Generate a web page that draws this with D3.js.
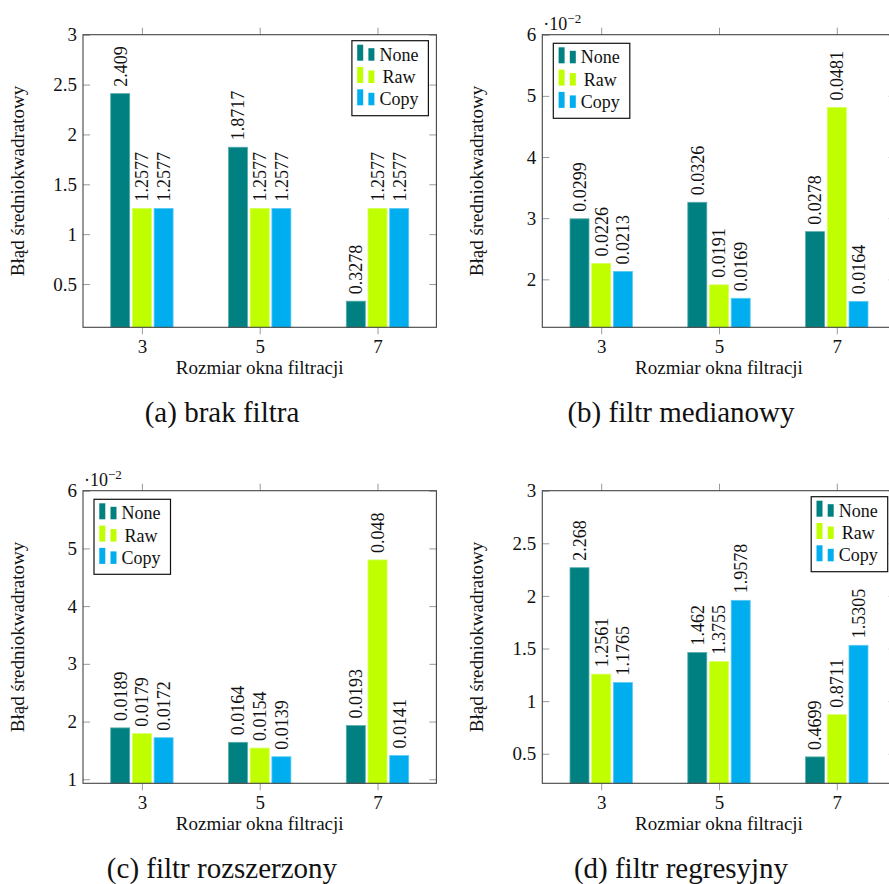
<!DOCTYPE html>
<html>
<head>
<meta charset="utf-8">
<script src="https://cdn.jsdelivr.net/npm/d3@7"></script>
<style>
  body { margin: 0; background: #fff; }
</style>
</head>
<body>
<script>
// Four bar charts (2x2), error per filter window size

var categories = [3, 5, 7];
var seriesNames = ["None", "Raw", "Copy"];
var seriesColors = ["#008080", "#bfff00", "#00aeef"];

// (a) brak filtra
var noneA = [2.409, 1.8717, 0.3278];
var rawA  = [1.2577, 1.2577, 1.2577];
var copyA = [1.2577, 1.2577, 1.2577];
// (b) filtr medianowy
var noneB = [0.0299, 0.0326, 0.0278];
var rawB  = [0.0226, 0.0191, 0.0481];
var copyB = [0.0213, 0.0169, 0.0164];
// (c) filtr rozszerzony
var noneC = [0.0189, 0.0164, 0.0193];
var rawC  = [0.0179, 0.0154, 0.048];
var copyC = [0.0172, 0.0139, 0.0141];
// (d) filtr regresyjny
var noneD = [2.268, 1.462, 0.4699];
var rawD  = [1.2561, 1.3755, 0.8711];
var copyD = [1.1765, 1.9578, 1.5305];

var ticksA = [0.5, 1, 1.5, 2, 2.5, 3];
var ticksB = [0.02, 0.03, 0.04, 0.05, 0.06];
var ticksC = [0.01, 0.02, 0.03, 0.04, 0.05, 0.06];
var ticksD = [0.5, 1, 1.5, 2, 2.5, 3];

var captions = ["(a) brak filtra", "(b) filtr medianowy", "(c) filtr rozszerzony", "(d) filtr regresyjny"];
var xLabel = "Rozmiar okna filtracji";
var yLabel = "Błąd średniokwadratowy";

var serif = "'Liberation Serif', 'DejaVu Serif', serif";
var width = 889, height = 884;
var axW = 353.4, axH = 292.6;

var svg = d3.select("body").append("svg")
    .attr("width", width)
    .attr("height", height)
    .style("font-family", serif);

var panels = [
  { left: 83,    top: 34.7,  series: [noneA, rawA, copyA], ymin: 0.066,  ticks: ticksA, exp: false, legend: "right", capX: 222 },
  { left: 542.3, top: 34.7,  series: [noneB, rawB, copyB], ymin: 0.01216, ticks: ticksB, exp: true,  legend: "left",  capX: 681 },
  { left: 83,    top: 490.7, series: [noneC, rawC, copyC], ymin: 0.0093, ticks: ticksC, exp: true,  legend: "left",  capX: 222 },
  { left: 542.3, top: 490.7, series: [noneD, rawD, copyD], ymin: 0.219,  ticks: ticksD, exp: false, legend: "right", capX: 681 }
];

var barW = 19, barStep = 21.7;
var fmtValue = function(v) { return String(+v.toFixed(4)); };

panels.forEach(function(p, pi) {
  var g = svg.append("g");
  var bottom = p.top + axH, right = p.left + axW;
  var ticks = p.ticks;
  var ymax = ticks[ticks.length - 1];

  var x = d3.scaleLinear().domain([2, 8]).range([p.left, right]);
  var y = d3.scaleLinear().domain([p.ymin, ymax]).range([bottom, p.top]);

  // bars
  p.series.forEach(function(vals, si) {
    var edge = d3.interpolateRgb(seriesColors[si], "#fff")(0.35);
    g.selectAll(null).data(vals).enter().append("rect")
      .attr("x", function(d, i) { return x(categories[i]) + (si - 1) * barStep - barW / 2; })
      .attr("y", function(d) { return y(d); })
      .attr("width", barW)
      .attr("height", function(d) { return bottom - y(d); })
      .attr("fill", seriesColors[si])
      .attr("stroke", edge)
      .attr("stroke-width", 0.8);

    g.selectAll(null).data(vals).enter().append("text")
      .attr("transform", function(d, i) {
        return "translate(" + (x(categories[i]) + (si - 1) * barStep) + "," + (y(d) - 7) + ") rotate(-90)";
      })
      .attr("dy", "0.35em")
      .attr("font-size", 18)
      .text(fmtValue);
  });

  var tickFmt = p.exp ? function(v) { return String(Math.round(v * 100)); } : function(v) { return String(v); };

  // axes
  var ax = g.append("g").attr("transform", "translate(" + p.left + ",0)")
    .call(d3.axisLeft(y).tickValues(ticks).tickSize(-7).tickPadding(6).tickFormat(tickFmt));
  var axr = g.append("g").attr("transform", "translate(" + right + ",0)")
    .call(d3.axisRight(y).tickValues(ticks).tickSize(-7).tickFormat(""));
  var axb = g.append("g").attr("transform", "translate(0," + bottom + ")")
    .call(d3.axisBottom(x).tickValues(categories).tickSize(7).tickPadding(5).tickFormat(d3.format("d")));
  var axt = g.append("g").attr("transform", "translate(0," + p.top + ")")
    .call(d3.axisTop(x).tickValues(categories).tickSize(7).tickFormat(""));

  [ax, axr, axb, axt].forEach(function(a) {
    a.attr("font-family", null).attr("font-size", null);
    a.select(".domain").remove();
    a.selectAll(".tick line").attr("stroke", "#999").attr("stroke-width", 1);
    a.selectAll(".tick text")
      .attr("font-size", 19)
      .attr("fill", "#111");
  });

  g.append("rect")
    .attr("x", p.left).attr("y", p.top)
    .attr("width", axW).attr("height", axH)
    .attr("fill", "none")
    .attr("stroke", "#444")
    .attr("stroke-width", 1.1);

  if (p.exp) {
    var et = g.append("text")
      .attr("x", p.left + 1).attr("y", p.top - 5)
      .attr("font-size", 18);
    et.append("tspan").text("·10");
    et.append("tspan").attr("dy", -7).attr("font-size", 13).text("−2");
  }

  // axis titles
  g.append("text")
    .attr("x", (p.left + right) / 2).attr("y", bottom + 47)
    .attr("text-anchor", "middle")
    .attr("font-size", 19)
    .text(xLabel);

  g.append("text")
    .attr("transform", "translate(" + (p.left - 65) + "," + (p.top + axH / 2) + ") rotate(-90)")
    .attr("text-anchor", "middle")
    .attr("dy", "0.3em")
    .attr("font-size", 19)
    .text(yLabel);

  g.append("text")
    .attr("x", p.capX).attr("y", bottom + 94.5)
    .attr("text-anchor", "middle")
    .attr("font-size", 29)
    .text(captions[pi]);

  // legend
  var lw = 76.5, lh = 75;
  var lx = p.legend === "right" ? right - 8 - lw : p.left + 11;
  var ly = p.legend === "right" ? p.top + 6 : p.top + 8.6;
  var lg = g.append("g").attr("transform", "translate(" + lx + "," + ly + ")");
  lg.append("rect")
    .attr("width", lw).attr("height", lh)
    .attr("fill", "#fff")
    .attr("stroke", "#111")
    .attr("stroke-width", 1.2);

  seriesNames.forEach(function(name, si) {
    var base = 20 + si * 22.3;
    lg.append("rect").attr("x", 5.3).attr("y", base - 16).attr("width", 6).attr("height", 16)
      .attr("fill", seriesColors[si]);
    lg.append("rect").attr("x", 16.5).attr("y", base - 12.5).attr("width", 6).attr("height", 12.5)
      .attr("fill", seriesColors[si]);
    lg.append("text")
      .attr("x", 47).attr("y", base)
      .attr("text-anchor", "middle")
      .attr("font-size", 18)
      .text(name);
  });
});

// make sure every label uses the serif face
svg.selectAll("text").style("font-family", serif).attr("fill", "#111");
</script>
</body>
</html>
